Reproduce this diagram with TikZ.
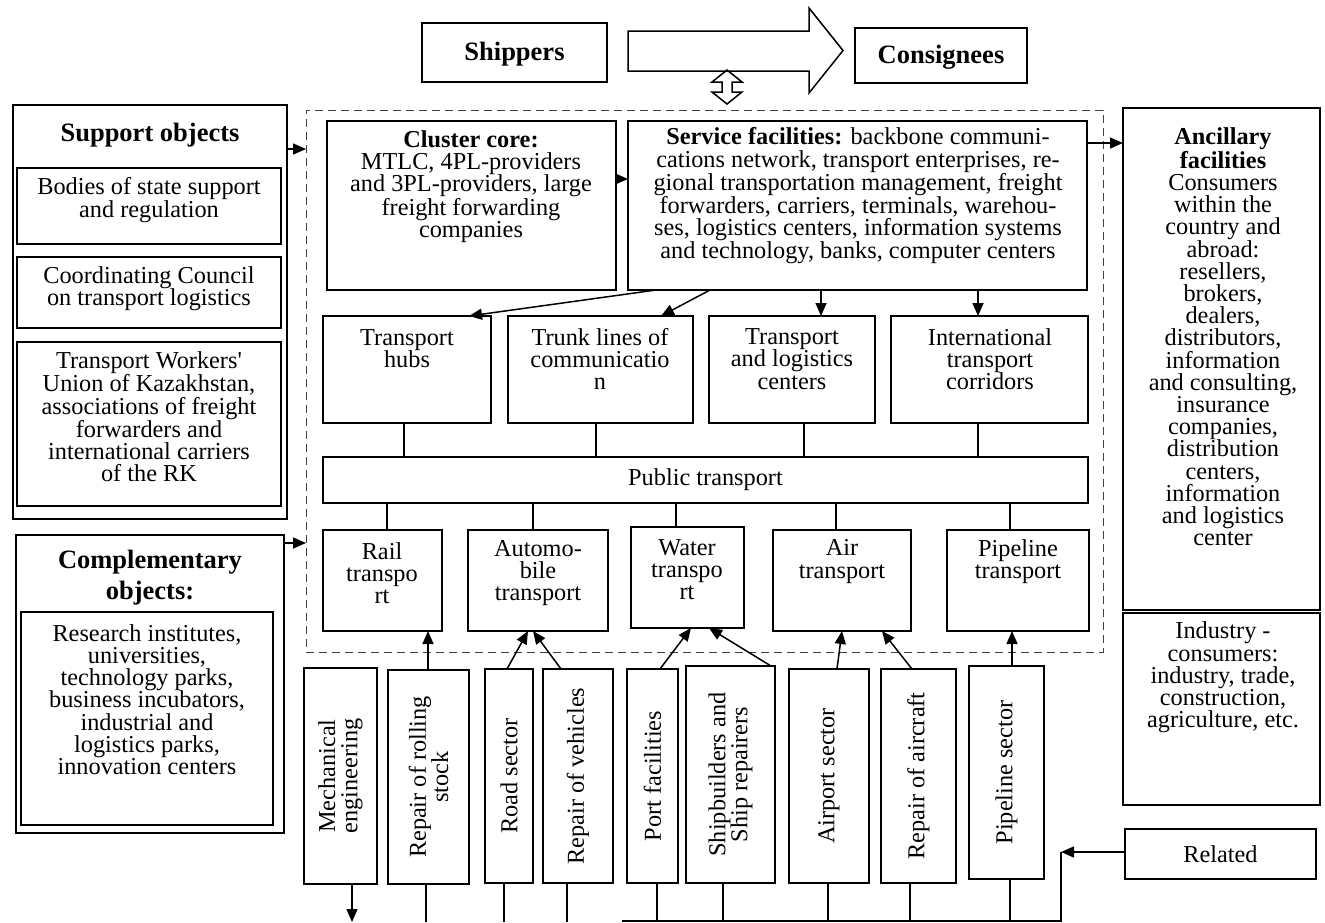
\documentclass[tikz,border=0pt]{standalone}
\usepackage{fontspec}
\setmainfont{Liberation Serif}
\usetikzlibrary{arrows.meta,fit,calc}
\newcommand\mkbox[6][]{\path (#3,#4) coordinate (#2-a) (#5,#6) coordinate (#2-b);\node[box,#1,fit=(#2-a)(#2-b)] (#2) {};}
\begin{document}
\begin{tikzpicture}[x=1pt,y=-1pt,
 box/.style={draw,line width=1.5pt,inner sep=0pt,outer sep=0pt,rectangle},
 txt/.style={font=\fontsize{24.3}{22.2}\selectfont,align=center,inner sep=0pt},
 hdr/.style={font=\fontsize{26.5}{31}\selectfont\bfseries,align=center,inner sep=0pt},
 vtxt/.style={txt,rotate=90},
 conn/.style={line width=1.5pt},
 arr/.style={conn,-{Triangle[length=13pt,width=11pt]}},
 dashbox/.style={line width=1pt,draw=black!75,dash pattern=on 8pt off 5pt}
]
\useasboundingbox (0,0) rectangle (1325,922);
% ---------- top ----------
\mkbox{ship}{422}{23}{607}{82}
\node[hdr] (t-ship) at ([yshift=-2pt]ship.center) {Shippers};
\mkbox{cons}{855}{28}{1027}{83}
\node[hdr] (t-cons) at ([yshift=-2pt]cons.center) {Consignees};
\draw[line width=1.5pt,line join=miter] (628,31) -- (809,31) -- (809,8) -- (843,50.5) -- (809,93) -- (809,71) -- (628,71) -- cycle;
\draw[line width=1.5pt,line join=miter] (727,70) -- (742,82) -- (732,82) -- (732,92) -- (742,92) -- (727,104) -- (712,92) -- (722,92) -- (722,82) -- (712,82) -- cycle;
% ---------- left ----------
\mkbox{supp}{13}{105}{287}{519}
\node[hdr] (t-supp) at (150,135) {Support objects};
\mkbox{sup1}{17}{168}{281}{244}
\node[txt] (t-sup1) at (149,200) {Bodies of state support\\and regulation};
\mkbox{sup2}{17}{257}{281}{328}
\node[txt] (t-sup2) at (149,289) {Coordinating Council\\on transport logistics};
\mkbox{sup3}{17}{342}{281}{506}
\node[txt] (t-sup3) at (149,417) {Transport Workers\textquotesingle\\Union of Kazakhstan,\\associations of freight\\forwarders and\\international carriers\\of the RK};
\mkbox{comp}{16}{535}{284}{833}
\node[hdr] (t-comp) at (150,577.5) {Complementary\\objects:};
\mkbox{comp1}{21}{612}{273}{825}
\node[txt] (t-comp1) at (147,699.5) {Research institutes,\\universities,\\technology parks,\\business incubators,\\industrial and\\logistics parks,\\innovation centers};
% ---------- cluster ----------
\mkbox[dashbox]{clus}{306}{110}{1103}{652}
\mkbox{core}{327}{121}{616}{290}
\node[txt] (t-core) at (471,186.5) {\textbf{Cluster core:}\\MTLC, 4PL-providers\\and 3PL-providers, large\\freight forwarding\\companies};
\mkbox{serv}{628}{121}{1087}{290}
\node[txt] (t-serv) at (858,195.5) {\textbf{Service facilities:} backbone communi-\\cations network, transport enterprises, re-\\gional transportation management, freight\\forwarders, carriers, terminals, warehou-\\ses, logistics centers, information systems\\and technology, banks, computer centers};
\mkbox{hubs}{323}{316}{491}{423}
\node[txt] (t-hubs) at (407,348.5) {Transport\\hubs};
\mkbox{trunk}{508}{316}{693}{423}
\node[txt] (t-trunk) at (600,359) {Trunk lines of\\communicatio\\n};
\mkbox{tlc}{709}{316}{875}{423}
\node[txt] (t-tlc) at (792,359) {Transport\\and logistics\\centers};
\mkbox{itc}{891}{316}{1088}{423}
\node[txt] (t-itc) at (990,359) {International\\transport\\corridors};
\mkbox{pub}{323}{457}{1088}{503}
\node[txt] (t-pub) at (pub.center) {Public transport};
\mkbox{rail}{323}{530}{442}{631}
\node[txt] (t-rail) at (382,573) {Rail\\transpo\\rt};
\mkbox{auto}{468}{530}{608}{631}
\node[txt] (t-auto) at (538,573) {Automo-\\bile\\transport};
\mkbox{water}{631}{527}{744}{628}
\node[txt] (t-water) at (687,569.5) {Water\\transpo\\rt};
\mkbox{air}{773}{530}{911}{631}
\node[txt] (t-air) at (842,561.5) {Air\\transport};
\mkbox{pipe}{947}{530}{1089}{631}
\node[txt] (t-pipe) at (1018,561.5) {Pipeline\\transport};
% ---------- right ----------
\mkbox{anc}{1123}{108}{1320}{610}
\node[txt] (t-anc) at (1223,337) {\textbf{Ancillary}\\\textbf{facilities}\\Consumers\\within the\\country and\\abroad:\\resellers,\\brokers,\\dealers,\\distributors,\\information\\and consulting,\\insurance\\companies,\\distribution\\centers,\\information\\and logistics\\center};
\mkbox{ind}{1123}{613}{1320}{805}
\node[txt] (t-ind) at (1223,677.5) {Industry -\\consumers:\\industry, trade,\\construction,\\agriculture, etc.};
\mkbox{rel}{1125}{829}{1316}{879}
\node[txt] (t-rel) at (rel.center) {Related};
% ---------- bottom vertical boxes ----------
\mkbox[line width=2pt]{mech}{304}{668}{377}{884}
\node[vtxt] (t-mech) at (mech.center) {Mechanical\\engineering};
\mkbox{rroll}{388}{670}{469}{884}
\node[vtxt] (t-rroll) at (rroll.center) {Repair of rolling\\stock};
\mkbox{road}{485}{669}{533}{883}
\node[vtxt] (t-road) at (road.center) {Road sector};
\mkbox{rveh}{543}{669}{613}{883}
\node[vtxt] (t-rveh) at (rveh.center) {Repair of vehicles};
\mkbox{port}{627}{669}{678}{883}
\node[vtxt] (t-port) at (port.center) {Port facilities};
\mkbox{shipb}{686}{666}{775}{883}
\node[vtxt] (t-shipb) at (shipb.center) {Shipbuilders and\\Ship repairers};
\mkbox{airp}{789}{669}{869}{883}
\node[vtxt] (t-airp) at (airp.center) {Airport sector};
\mkbox{rair}{881}{669}{956}{883}
\node[vtxt] (t-rair) at (rair.center) {Repair of aircraft};
\mkbox{pipes}{969}{666}{1044}{879}
\node[vtxt] (t-pipes) at (pipes.center) {Pipeline sector};
% ---------- connectors ----------
\coordinate (c1) at ([yshift=-44pt]supp.north east);
\draw[arr] (c1) -- (c1 -| clus.west);
\coordinate (c2) at ([yshift=-8pt]comp.north east);
\draw[arr] (c2) -- (c2 -| clus.west);
\coordinate (c3) at ([yshift=-58pt]core.north east);
\draw[arr] (c3) -- (c3 -| serv.west);
\coordinate (c4) at ([yshift=-22pt]serv.north east);
\draw[arr] (c4) -- (c4 -| anc.west);
\draw[arr] ([xshift=28pt]serv.south west) -- ([xshift=146pt]hubs.north west);
\draw[arr] ([xshift=82pt]serv.south west) -- ([xshift=153pt]trunk.north west);
\coordinate (c5) at ([xshift=112pt]tlc.north west);
\draw[arr] (c5 |- serv.south) -- (c5);
\coordinate (c6) at ([xshift=87pt]itc.north west);
\draw[arr] (c6 |- serv.south) -- (c6);
% to public transport
\coordinate (p1) at ([xshift=81pt]hubs.south west);
\draw[conn] (p1) -- (p1 |- pub.north);
\coordinate (p2) at ([xshift=88pt]trunk.south west);
\draw[conn] (p2) -- (p2 |- pub.north);
\coordinate (p3) at ([xshift=95pt]tlc.south west);
\draw[conn] (p3) -- (p3 |- pub.north);
\coordinate (p4) at ([xshift=87pt]itc.south west);
\draw[conn] (p4) -- (p4 |- pub.north);
\coordinate (q1) at ([xshift=64pt]rail.north west);
\draw[conn] (q1 |- pub.south) -- (q1);
\coordinate (q2) at ([xshift=65pt]auto.north west);
\draw[conn] (q2 |- pub.south) -- (q2);
\coordinate (q3) at ([xshift=45pt]water.north west);
\draw[conn] (q3 |- pub.south) -- (q3);
\coordinate (q4) at ([xshift=63pt]air.north west);
\draw[conn] (q4 |- pub.south) -- (q4);
\coordinate (q5) at ([xshift=63pt]pipe.north west);
\draw[conn] (q5 |- pub.south) -- (q5);
% from bottom boxes
\coordinate (r1) at ([xshift=40pt]rroll.north west);
\draw[arr] (r1) -- (r1 |- rail.south);
\draw[arr] ([xshift=22pt]road.north west) -- ([xshift=60pt]auto.south west);
\draw[arr] ([xshift=18pt]rveh.north west) -- ([xshift=65pt]auto.south west);
\draw[arr] ([xshift=33pt]port.north west) -- ([xshift=60pt]water.south west);
\draw[arr] ([xshift=-4pt]shipb.north east) -- ([xshift=78pt]water.south west);
\draw[arr] ([xshift=48pt]airp.north west) -- ([xshift=69pt]air.south west);
\draw[arr] ([xshift=31pt]rair.north west) -- ([xshift=109pt]air.south west);
\coordinate (r2) at ([xshift=43pt]pipes.north west);
\draw[arr] (r2) -- (r2 |- pipe.south);
% down to the bottom
\coordinate (bot) at (0,922);
\coordinate (d0) at ([xshift=48pt]mech.south west);
\draw[arr] (d0) -- (d0 |- bot);
\foreach \n/\s in {rroll/38,road/19,rveh/24,port/30,shipb/37,airp/39,rair/29,pipes/41}{
  \coordinate (d-\n) at ([xshift=\s pt]\n.south west);
  \draw[conn] (d-\n) -- (d-\n |- bot);
}
% related
\coordinate (rj) at (1061,852);
\coordinate (bl) at (622,921);
\coordinate (c7) at ([yshift=-23pt]rel.north west);
\draw[arr] (c7) -- (c7 -| rj);
\draw[conn] (rj) -- (rj |- bl) -- (bl);
\end{tikzpicture}
\end{document}
